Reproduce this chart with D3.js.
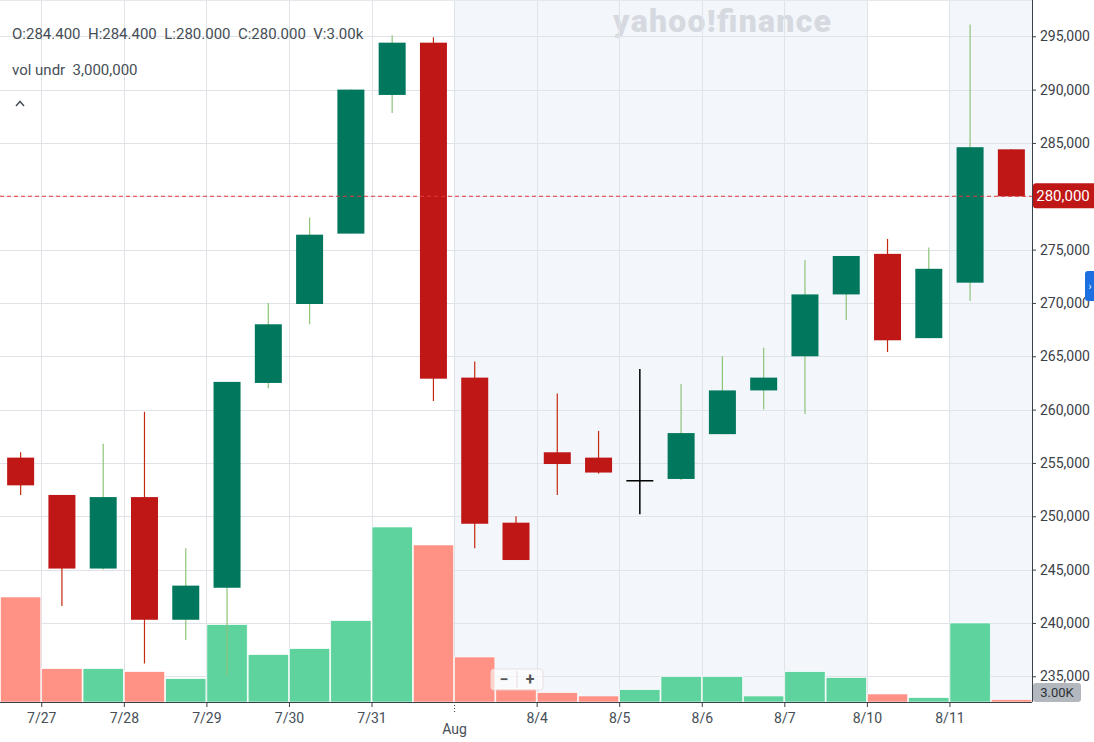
<!doctype html>
<html>
<head>
<meta charset="utf-8">
<title>Candlestick chart</title>
<script src="https://cdnjs.cloudflare.com/ajax/libs/d3/7.8.5/d3.min.js"></script>
<style>
  body { margin: 0; background: #fff; font-family: Roboto, "Liberation Sans", sans-serif; }
  svg text { white-space: pre; }
</style>
</head>
<body>
<div id="chart"></div>
<script>
// OHLC per half-day slot (prices)
const opens  = [255500, 252000, 245100, 251800, 240300, 243300, 262500, 269900, 276500, 289500, 294400, 263000, 249400,
                256000, 255500, 253400, 253500, 257700, 261800, 265000, 270800, 274600, 266700, 271900, 284400];
const highs  = [256000, 252000, 256800, 259800, 247000, 262600, 270000, 278000, 290000, 295100, 294900, 264500, 250000,
                261500, 258000, 263800, 262400, 265000, 265800, 274000, 274400, 276000, 275200, 296100, 284400];
const lows   = [252000, 241600, 245000, 236200, 238400, 235100, 262000, 268000, 276500, 287800, 260800, 247000, 245900,
                252000, 254000, 250200, 253400, 257700, 260000, 259600, 268400, 265400, 266700, 270200, 280000];
const closes = [252900, 245100, 251800, 240300, 243500, 262600, 268000, 276400, 290000, 294400, 262900, 249300, 245900,
                254900, 254100, 253400, 257800, 261800, 263000, 270800, 274400, 266500, 273200, 284600, 280000];
const volumes = [136500, 43300, 43300, 39400, 30300, 100500, 61500, 69300, 105700, 227500, 204100, 58500, 16900,
                 12100, 7800, 16000, 32900, 32900, 7800, 39400, 31600, 10400, 5600, 102700, 3000];

// date ticks sit between slots
const tickSlots  = [1, 3, 5, 7, 9, 11, 13, 15, 17, 19, 21, 23];
const tickLabels = ['7/27', '7/28', '7/29', '7/30', '7/31', 'Aug', '8/4', '8/5', '8/6', '8/7', '8/10', '8/11'];
const shadedSpans = [[11, 21], [23, 25]];
const priceTicks = d3.range(235000, 295001, 5000);
const lastPrice = 280000;

const width = 1094, height = 742;
const plotW = 1032, plotH = 702;
const green = '#01785d', red = '#bf1616';

const svg = d3.select('#chart').append('svg')
  .attr('width', width)
  .attr('height', height);

const x = d3.scaleLinear().domain([0, opens.length]).range([0, plotW]);
const slotW = x(1) - x(0);
const y = d3.scaleLinear().domain([232590, 298400]).range([plotH, 0]);
const yVol = d3.scaleLinear().domain([0, d3.max(volumes)]).range([plotH, 527]);

// shaded week backgrounds
svg.selectAll('rect.shade')
  .data(shadedSpans)
  .join('rect')
  .attr('class', 'shade')
  .attr('x', d => x(d[0]))
  .attr('y', 0)
  .attr('width', d => x(d[1]) - x(d[0]))
  .attr('height', plotH)
  .attr('fill', '#f3f6fa');

// watermark
svg.append('text')
  .attr('x', 613).attr('y', 32)
  .attr('font-size', 32).attr('font-weight', 900)
  .attr('textLength', 218)
  .attr('fill', '#d6dae0')
  .text('yahoo!finance');

// grid
svg.selectAll('line.hgrid')
  .data(priceTicks)
  .join('line')
  .attr('class', 'hgrid')
  .attr('x1', 0).attr('x2', plotW)
  .attr('y1', d => Math.round(y(d)) + 0.5).attr('y2', d => Math.round(y(d)) + 0.5)
  .attr('stroke', '#e0e3e8');

svg.selectAll('line.vgrid')
  .data(tickSlots)
  .join('line')
  .attr('class', 'vgrid')
  .attr('x1', d => Math.round(x(d)) + 0.5).attr('x2', d => Math.round(x(d)) + 0.5)
  .attr('y1', 0).attr('y2', plotH)
  .attr('stroke', '#e0e3e8');

svg.append('line')
  .attr('x1', 0).attr('x2', plotW).attr('y1', 0.5).attr('y2', 0.5)
  .attr('stroke', '#e6e8ec');

// volume bars
svg.selectAll('rect.vol')
  .data(volumes)
  .join('rect')
  .attr('class', 'vol')
  .attr('x', (d, i) => x(i) + 0.5)
  .attr('y', d => yVol(d))
  .attr('width', slotW - 1)
  .attr('height', d => plotH - yVol(d))
  .attr('fill', (d, i) => closes[i] >= opens[i] ? '#5fd39e' : '#ff9185')
  .attr('stroke', '#fff')
  .attr('stroke-width', 0.6);

// candles
const bodyW = 27;
const candles = svg.selectAll('g.candle')
  .data(opens.map((o, i) => ({ i, o, h: highs[i], l: lows[i], c: closes[i] })))
  .join('g')
  .attr('class', 'candle');

const candleColor = d => d.c > d.o ? green : (d.c < d.o ? red : '#000');
const wickColor = d => d.c > d.o ? '#8cc47a' : (d.c < d.o ? '#c42a10' : '#000');

candles.append('line')
  .attr('x1', d => x(d.i + 0.5)).attr('x2', d => x(d.i + 0.5))
  .attr('y1', d => y(d.h)).attr('y2', d => y(d.l))
  .attr('stroke', wickColor)
  .attr('stroke-width', d => d.c === d.o ? 1.5 : 1.2);

candles.append('rect')
  .attr('x', d => x(d.i + 0.5) - bodyW / 2)
  .attr('y', d => y(Math.max(d.o, d.c)))
  .attr('width', bodyW)
  .attr('height', d => Math.max(1.5, Math.abs(y(d.o) - y(d.c))))
  .attr('fill', candleColor);

// last price line
svg.append('line')
  .attr('x1', 0).attr('x2', plotW)
  .attr('y1', y(lastPrice)).attr('y2', y(lastPrice))
  .attr('stroke', '#e0383c')
  .attr('stroke-dasharray', '4,3');

// right price axis
const yAxis = svg.append('g')
  .attr('transform', `translate(${plotW},0)`)
  .call(d3.axisRight(y).tickValues(priceTicks).tickFormat(d3.format(',')).tickSize(4).tickPadding(4));
yAxis.select('.domain').attr('stroke', '#3b4148').attr('d', `M0.5,0V${plotH}`);
yAxis.selectAll('.tick line').attr('stroke', '#3b4148');
yAxis.selectAll('.tick text')
  .attr('font-family', 'Roboto, sans-serif')
  .attr('font-size', 14)
  .attr('fill', '#3b4148');
// the last-price tag replaces that tick's label
yAxis.selectAll('.tick').filter(d => d === lastPrice).select('text').remove();

// bottom axis
const xAxis = svg.append('g')
  .attr('transform', `translate(0,${plotH})`)
  .call(d3.axisBottom(x).tickValues(tickSlots).tickFormat((d, i) => tickLabels[i]).tickSize(5).tickPadding(6));
xAxis.select('.domain').attr('stroke', '#3b4148').attr('d', `M0,0.5H${plotW}`);
xAxis.selectAll('.tick line').attr('stroke', '#3b4148');
xAxis.selectAll('.tick text')
  .attr('font-family', 'Roboto, sans-serif')
  .attr('font-size', 14)
  .attr('fill', '#464e56');
xAxis.selectAll('.tick')
  .filter(d => tickLabels[tickSlots.indexOf(d)] === 'Aug')
  .call(t => {
    t.select('line').attr('y2', 10).attr('stroke-dasharray', '1,2');
    t.select('text').attr('y', 22);
  });

// last price tag
svg.append('path')
  .attr('d', `M${plotW + 4},${y(lastPrice) - 13}H${width}V${y(lastPrice) + 12}H${plotW + 4}` +
             `a3,3 0 0 1 -3,-3V${y(lastPrice) - 10}a3,3 0 0 1 3,-3Z`)
  .attr('fill', red);
svg.append('text')
  .attr('x', plotW + 31).attr('y', y(lastPrice) + 5)
  .attr('text-anchor', 'middle')
  .attr('font-size', 15).attr('fill', '#fff')
  .text(d3.format(',')(lastPrice));

// last volume tag
svg.append('rect')
  .attr('x', plotW + 1).attr('y', 683).attr('width', 48).attr('height', 19)
  .attr('rx', 3).attr('fill', '#b3b7be');
svg.append('text')
  .attr('x', plotW + 25).attr('y', 697)
  .attr('text-anchor', 'middle')
  .attr('font-size', 13).attr('fill', '#2c3238')
  .text(d3.format('.2f')(volumes[volumes.length - 1] / 1000) + 'K');

// side tab
svg.append('rect')
  .attr('x', 1085).attr('y', 271).attr('width', 12).attr('height', 30)
  .attr('rx', 3).attr('fill', '#1b6fe0');
svg.append('text')
  .attr('x', 1090).attr('y', 290)
  .attr('text-anchor', 'middle')
  .attr('font-size', 10).attr('fill', '#fff')
  .text('›');

// zoom buttons
const zoomBox = svg.append('g').attr('transform', 'translate(491,669)');
zoomBox.append('rect')
  .attr('width', 52).attr('height', 21).attr('rx', 3)
  .attr('fill', 'rgba(255,255,255,0.6)')
  .attr('stroke', 'rgba(230,220,220,0.8)');
zoomBox.append('line')
  .attr('x1', 26).attr('x2', 26).attr('y1', 2).attr('y2', 19)
  .attr('stroke', '#e8dcdc');
zoomBox.append('text').attr('x', 13).attr('y', 15.5).attr('text-anchor', 'middle')
  .attr('font-size', 16).attr('font-weight', 700).attr('fill', '#555').text('−');
zoomBox.append('text').attr('x', 39).attr('y', 15.5).attr('text-anchor', 'middle')
  .attr('font-size', 16).attr('font-weight', 700).attr('fill', '#555').text('+');

// legend
const last = opens.length - 1;
const fmt3 = d3.format('.3f');
svg.append('text')
  .attr('x', 12).attr('y', 39)
  .attr('font-size', 15).attr('fill', '#464e56')
  .text(`O:${fmt3(opens[last] / 1000)}  H:${fmt3(highs[last] / 1000)}  L:${fmt3(lows[last] / 1000)}  C:${fmt3(closes[last] / 1000)}  V:${d3.format('.2f')(volumes[last] / 1000)}k`);
svg.append('text')
  .attr('x', 12).attr('y', 75)
  .attr('font-size', 15).attr('fill', '#464e56')
  .text('vol undr  3,000,000');
svg.append('path')
  .attr('d', 'M16,106 L20,101.5 L24,106')
  .attr('fill', 'none')
  .attr('stroke', '#464e56')
  .attr('stroke-width', 1.5);
</script>
</body>
</html>
